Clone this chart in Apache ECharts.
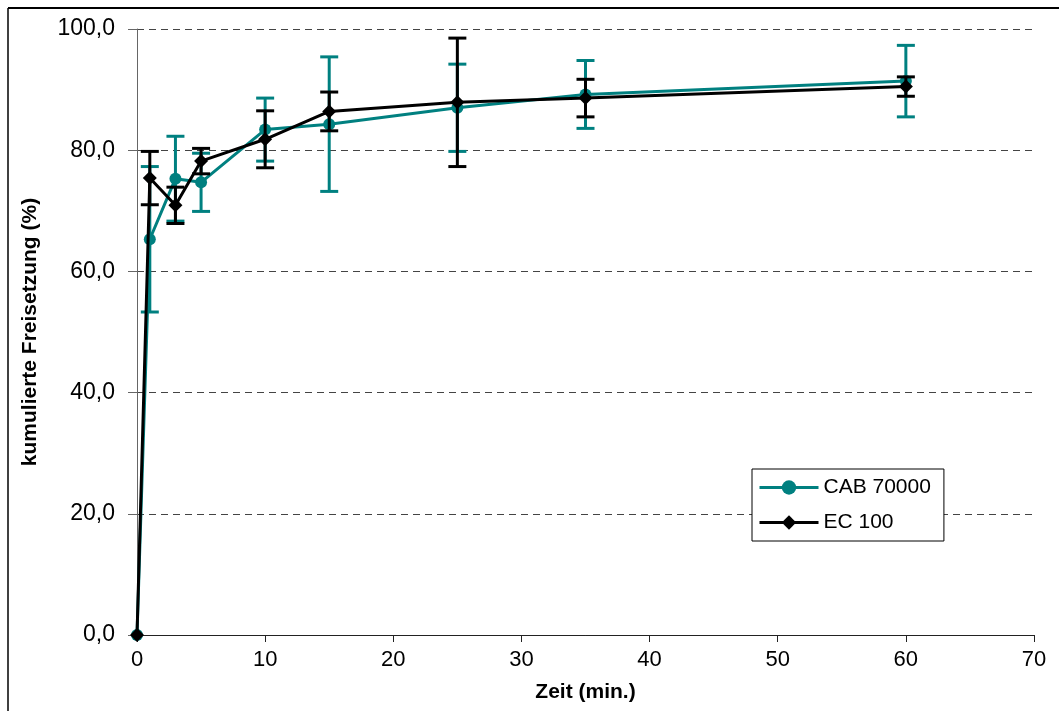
<!DOCTYPE html>
<html>
<head>
<meta charset="utf-8">
<script src="https://cdn.jsdelivr.net/npm/echarts@6/dist/echarts.min.js"></script>
<style>
html,body{margin:0;padding:0;background:#fff;}
#chart{width:1059px;height:711px;}
</style>
</head>
<body>
<div id="chart"></div>
<script>
// Data
var times = [0, 1, 3, 5, 10, 15, 25, 35, 60];
var cabMean = [0, 65.3, 75.3, 74.7, 83.4, 84.3, 87.0, 89.2, 91.4];
var cabSd   = [0, 12.0, 7.0, 4.8, 5.2, 11.1, 7.2, 5.6, 5.9];
var ecMean  = [0, 75.4, 70.9, 78.2, 81.8, 86.4, 87.9, 88.6, 90.5];
var ecSd    = [0, 4.4, 3.0, 2.1, 4.7, 3.2, 10.6, 3.1, 1.6];
var seriesNames = ['CAB 70000', 'EC 100'];
var xTicks = [0, 10, 20, 30, 40, 50, 60, 70];
var yTicks = [0, 20, 40, 60, 80, 100];

var TEAL = '#008080';
var BLACK = '#000000';

function pairs(mean) { return times.map(function (t, i) { return [t, mean[i]]; }); }
function errData(mean, sd) {
  var out = [];
  times.forEach(function (t, i) { if (sd[i] > 0) out.push([t, mean[i] - sd[i], mean[i] + sd[i]]); });
  return out;
}
function errSeries(name, mean, sd, color, z) {
  return {
    type: 'custom',
    name: name + ' err',
    z: z,
    silent: true,
    data: errData(mean, sd),
    encode: { x: 0, y: [1, 2] },
    renderItem: function (params, api) {
      var x = api.value(0);
      var lo = api.coord([x, api.value(1)]);
      var hi = api.coord([x, api.value(2)]);
      var hw = 9;
      var st = { stroke: color, lineWidth: 3 };
      return {
        type: 'group',
        children: [
          { type: 'line', shape: { x1: lo[0], y1: lo[1], x2: hi[0], y2: hi[1] }, style: st },
          { type: 'line', shape: { x1: lo[0] - hw, y1: lo[1], x2: lo[0] + hw, y2: lo[1] }, style: st },
          { type: 'line', shape: { x1: hi[0] - hw, y1: hi[1], x2: hi[0] + hw, y2: hi[1] }, style: st }
        ]
      };
    }
  };
}

var chart = echarts.init(document.getElementById('chart'));
var FONT = 'Liberation Sans, Arial, sans-serif';
chart.setOption({
  animation: false,
  backgroundColor: '#fff',
  grid: { left: 137, right: 25, top: 29, bottom: 76, containLabel: false },
  xAxis: {
    type: 'value', min: xTicks[0], max: xTicks[xTicks.length - 1], interval: 10,
    name: 'Zeit (min.)', nameLocation: 'middle', nameGap: 47,
    nameTextStyle: { fontFamily: FONT, fontWeight: 'bold', fontSize: 21, color: '#000' },
    axisLine: { lineStyle: { color: '#222', width: 1 } },
    axisTick: { show: true, inside: false, length: 7, lineStyle: { color: '#222' } },
    axisLabel: { fontFamily: FONT, fontSize: 22, color: '#000', margin: 14 },
    splitLine: { show: false }
  },
  yAxis: {
    type: 'value', min: yTicks[0], max: yTicks[yTicks.length - 1], interval: 20,
    name: 'kumulierte Freisetzung (%)', nameLocation: 'middle', nameGap: 96,
    nameTextStyle: { fontFamily: FONT, fontWeight: 'bold', fontSize: 21, color: '#000' },
    axisLine: { show: true, lineStyle: { color: '#666', width: 1 } },
    axisTick: { show: true, inside: false, length: 9, lineStyle: { color: '#666' } },
    axisLabel: {
      fontFamily: FONT, fontSize: 23, color: '#000', margin: 22,
      formatter: function (v) { return v.toFixed(1).replace('.', ','); }
    },
    splitLine: { show: true, lineStyle: { color: '#444', type: [7, 5], width: 1 } }
  },
  legend: {
    data: seriesNames,
    orient: 'vertical', left: 752, top: 469,
    itemWidth: 59, itemHeight: 18, itemGap: 14,
    padding: [8, 13, 8, 6],
    borderColor: '#000', borderWidth: 1, backgroundColor: '#fff',
    lineStyle: { width: 3 },
    textStyle: { fontFamily: FONT, fontSize: 21, color: '#000' }
  },
  series: [
    errSeries(seriesNames[0], cabMean, cabSd, TEAL, 2),
    {
      type: 'line', name: seriesNames[0], z: 3,
      data: pairs(cabMean),
      symbol: 'circle', symbolSize: 12,
      lineStyle: { color: TEAL, width: 3 },
      itemStyle: { color: TEAL }
    },
    errSeries(seriesNames[1], ecMean, ecSd, BLACK, 4),
    {
      type: 'line', name: seriesNames[1], z: 5,
      data: pairs(ecMean),
      symbol: 'diamond', symbolSize: 14,
      lineStyle: { color: BLACK, width: 3 },
      itemStyle: { color: BLACK }
    }
  ],
  graphic: [
    { type: 'line', shape: { x1: 8, y1: 8, x2: 1059, y2: 8 }, style: { stroke: '#000', lineWidth: 2 } },
    { type: 'line', shape: { x1: 8, y1: 8, x2: 8, y2: 711 }, style: { stroke: '#000', lineWidth: 1.5 } }
  ]
});
</script>
</body>
</html>
